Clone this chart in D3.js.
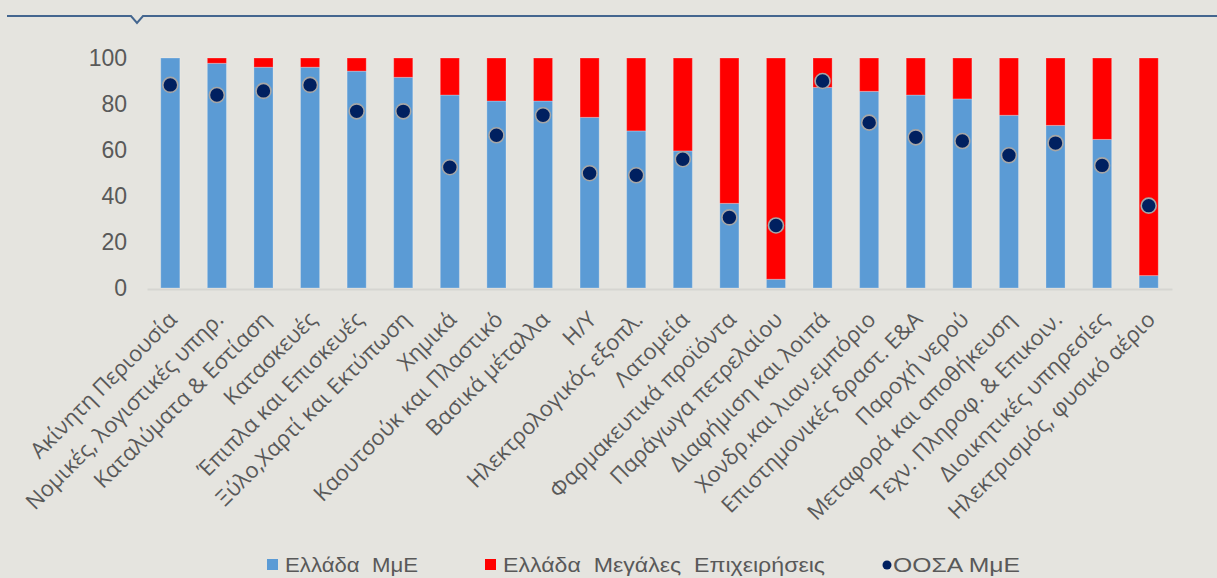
<!DOCTYPE html>
<html>
<head>
<meta charset="utf-8">
<script src="https://cdn.jsdelivr.net/npm/d3@7"></script>
<style>
  html, body { margin: 0; padding: 0; background: #e5e4df; }
  svg { display: block; }
</style>
</head>
<body>
<div id="chart"></div>
<script>
const categories = [
  "Ακίνητη Περιουσία", "Νομικές, λογιστικές υπηρ.", "Καταλύματα & Εστίαση", "Κατασκευές",
  "Έπιπλα  και Επισκευές", "Ξύλο,Χαρτί και Εκτύπωση", "Χημικά", "Καουτσούκ και Πλαστικό",
  "Βασικά μέταλλα", "Η/Υ", "Ηλεκτρολογικός εξοπλ.", "Λατομεία", "Φαρμακευτικά προϊόντα",
  "Παράγωγα  πετρελαίου", "Διαφήμιση και λοιπά", "Χονδρ.και λιαν.εμπόριο",
  "Επιστημονικές δραστ.  Ε&Α", "Παροχή νερού", "Μεταφορά και αποθήκευση",
  "Τεχν.  Πληροφ. & Επικοιν.", "Διοικητικές υπηρεσίες", "Ηλεκτρισμός, φυσικό αέριο"
]
const greeceSME   = [100, 97.7, 96, 96, 94.3, 91.6, 83.9, 81.3, 81.3, 74.2, 68.3, 59.6, 36.8, 3.8, 87.2, 85.5, 83.9, 82.2, 75.1, 70.7, 64.6, 5.4]
const greeceLarge = [0, 2.3, 4, 4, 5.7, 8.4, 16.1, 18.7, 18.7, 25.8, 31.7, 40.4, 63.2, 96.2, 12.8, 14.5, 16.1, 17.8, 24.9, 29.3, 35.4, 94.6]
const oecdSME     = [88.3, 83.9, 85.7, 88.3, 76.8, 76.8, 52.5, 66.4, 75.1, 49.9, 49.0, 56.0, 30.7, 27.2, 90.0, 71.9, 65.5, 63.9, 57.7, 63.0, 53.3, 35.8]
const yTicks = [0, 20, 40, 60, 80, 100]
const seriesNames = ["Ελλάδα  ΜμΕ", "Ελλάδα  Μεγάλες  Επιχειρήσεις", "ΟΟΣΑ ΜμΕ"]

const width = 1217
const height = 578
const textColor = "#595959"
const colors = {sme: "#5b9bd5", large: "#ff0000", oecd: "#002060"}

const svg = d3.select("#chart")
  .append("svg")
    .attr("width", width)
    .attr("height", height)
    .style("background-color", "#e5e4df")

// header rule with the little notch
const rule = [[7, 16], [131, 16], [137, 23], [143, 16], [width, 16]]
svg.append("path")
  .attr("d", d3.line()(rule))
  .attr("fill", "none")
  .attr("stroke", "#44668f")
  .attr("stroke-width", 2)

const xScale = d3.scaleBand()
  .domain(categories)
  .range([147, 1172])
  .paddingInner(0.59)
  .paddingOuter(0.295)

const yScale = d3.scaleLinear()
  .domain([0, 100])
  .range([288, 58])

const table = categories.map((c, i) => ({cat: c, sme: greeceSME[i], large: greeceLarge[i], oecd: oecdSME[i]}))
const stacked = d3.stack().keys(["sme", "large"])(table)

// y axis
svg.append("g")
  .attr("transform", "translate(147,0)")
  .call(d3.axisLeft(yScale).tickValues(yTicks).tickSize(0).tickPadding(20))
  .call(g => g.select(".domain").remove())
  .call(g => g.selectAll("text")
    .attr("fill", textColor)
    .style("font-family", "'Liberation Sans', Arial, sans-serif")
    .style("font-size", "23px"))

// bars
svg.append("g")
  .selectAll("g")
  .data(stacked)
  .join("g")
    .attr("fill", d => colors[d.key])
  .selectAll("rect")
  .data(d => d)
  .join("rect")
    .attr("x", d => xScale(d.data.cat))
    .attr("width", xScale.bandwidth())
    .attr("y", d => yScale(d[1]))
    .attr("height", d => yScale(d[0]) - yScale(d[1]))
    .attr("stroke", "#ffffff")
    .attr("stroke-opacity", 0.25)
    .attr("stroke-width", 1)

// x axis
svg.append("g")
  .attr("transform", "translate(0,289)")
  .call(d3.axisBottom(xScale).tickSize(0).tickSizeOuter(0))
  .call(g => g.select(".domain").attr("stroke", "#d6d5d1").attr("stroke-width", 2))
  .call(g => g.selectAll("text")
    .attr("fill", textColor)
    .attr("x", 0).attr("y", 0).attr("dy", 0)
    .attr("text-anchor", "end")
    .attr("transform", "translate(8,32) rotate(-45)")
    .style("font-family", "'Open Sans', sans-serif")
    .style("font-size", "22px"))

// OECD dots
svg.append("g")
  .selectAll("circle")
  .data(table)
  .join("circle")
    .attr("cx", d => xScale(d.cat) + xScale.bandwidth() / 2)
    .attr("cy", d => yScale(d.oecd))
    .attr("r", 7.5)
    .attr("fill", colors.oecd)
    .attr("stroke", "#a6a6a6")
    .attr("stroke-width", 1.6)

// legend (kept just inside the bottom edge)
const legend = svg.append("g")
  .style("font-family", "'Liberation Sans', Arial, sans-serif")
  .style("font-size", "20px")
  .attr("fill", textColor)

const legendItems = [
  {name: seriesNames[0], key: "sme", x: 267, textX: 285, len: 133},
  {name: seriesNames[1], key: "large", x: 485, textX: 503, len: 322},
  {name: seriesNames[2], key: "oecd", x: 882, textX: 893, len: 127}
]

legendItems.forEach(item => {
  if (item.key === "oecd") {
    legend.append("circle")
      .attr("cx", item.x + 5).attr("cy", 565).attr("r", 4.5)
      .attr("fill", colors.oecd)
  } else {
    legend.append("rect")
      .attr("x", item.x).attr("y", 559).attr("width", 11).attr("height", 11)
      .attr("fill", colors[item.key])
  }
  legend.append("text")
    .attr("x", item.textX).attr("y", 572)
    .attr("textLength", item.len)
    .attr("lengthAdjust", "spacingAndGlyphs")
    .style("white-space", "pre")
    .text(item.name)
})
</script>
</body>
</html>
